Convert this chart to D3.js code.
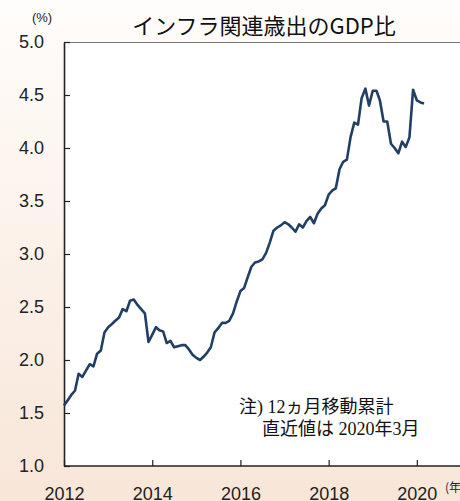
<!DOCTYPE html>
<html>
<head>
<meta charset="utf-8">
<script src="https://cdn.jsdelivr.net/npm/d3@7"></script>
<style>
  body { margin: 0; }
  svg { display: block; }
</style>
</head>
<body>
<div id="chart"></div>
<script>
// monthly series, Jan 2012 - Mar 2020 (%)
var startYear = 2012
var values = [
  1.57, 1.62, 1.67, 1.71, 1.87, 1.84, 1.90, 1.96, 1.94, 2.06, 2.09, 2.26,
  2.31, 2.34, 2.37, 2.40, 2.48, 2.46, 2.56, 2.57, 2.52, 2.48, 2.44, 2.17,
  2.24, 2.31, 2.28, 2.27, 2.16, 2.18, 2.12, 2.13, 2.14, 2.14, 2.10, 2.05,
  2.02, 2.00, 2.03, 2.07, 2.12, 2.26, 2.30, 2.35, 2.35, 2.37, 2.44, 2.55,
  2.65, 2.68, 2.78, 2.88, 2.92, 2.93, 2.95, 3.01, 3.11, 3.22, 3.25, 3.27,
  3.30, 3.28, 3.25, 3.21, 3.28, 3.25, 3.31, 3.35, 3.29, 3.38, 3.43, 3.46,
  3.56, 3.60, 3.62, 3.80, 3.87, 3.89, 4.10, 4.24, 4.22, 4.47, 4.56, 4.40,
  4.54, 4.54, 4.45, 4.25, 4.25, 4.04, 4.00, 3.95, 4.06, 4.01, 4.10, 4.55,
  4.45, 4.43, 4.42
]
var yTicks = [1.0, 1.5, 2.0, 2.5, 3.0, 3.5, 4.0, 4.5, 5.0]
var xYears = [2012, 2014, 2016, 2018, 2020]

var title = "インフラ関連歳出のGDP比"
var noteLines = ["注) 12ヵ月移動累計", "直近値は 2020年3月"]

var width = 460
var height = 501
// plot box (named so it doesn't clash with window.top)
var plotLeft = 64, plotTop = 42, plotRight = 461, plotBottom = 466

var data = values.map(function(v, i) {
  return { date: new Date(startYear, i, 1), value: v }
})

var svg = d3.select("#chart").append("svg")
  .attr("width", width)
  .attr("height", height)

// peach background
var grad = svg.append("defs").append("linearGradient")
  .attr("id", "bg").attr("x1", 0).attr("y1", 0).attr("x2", 0).attr("y2", 1)
grad.append("stop").attr("offset", "0%").attr("stop-color", "#fffdfb")
grad.append("stop").attr("offset", "100%").attr("stop-color", "#f8e6d8")

svg.append("rect")
  .attr("width", width).attr("height", height)
  .attr("fill", "url(#bg)")

var x = d3.scaleTime()
  .domain([new Date(2012, 0, 1), new Date(2021, 0, 1)])
  .range([plotLeft, plotRight])

var y = d3.scaleLinear()
  .domain([1, 5])
  .range([plotBottom, plotTop])

// plot area
svg.append("rect")
  .attr("x", plotLeft).attr("y", plotTop)
  .attr("width", width - plotLeft).attr("height", plotBottom - plotTop)
  .attr("fill", "#fff")

svg.append("line")
  .attr("x1", plotLeft).attr("x2", width)
  .attr("y1", plotTop + 0.5).attr("y2", plotTop + 0.5)
  .attr("stroke", "#777").attr("stroke-width", 1)

var yAxis = svg.append("g")
  .attr("transform", "translate(" + plotLeft + ",0)")
  .call(d3.axisLeft(y).tickValues(yTicks).tickFormat(d3.format(".1f"))
    .tickSizeInner(-6).tickSizeOuter(0).tickPadding(20))
yAxis.select(".domain").attr("stroke", "#222").attr("stroke-width", 1.6)
yAxis.selectAll(".tick line").attr("stroke", "#222").attr("stroke-width", 1.2)
yAxis.selectAll("text")
  .attr("fill", "#222")
  .style("font-family", "'Liberation Sans', Arial, sans-serif")
  .style("font-size", "18px")

var xAxis = svg.append("g")
  .attr("transform", "translate(0," + plotBottom + ")")
  .call(d3.axisBottom(x).tickValues(xYears.map(function(yr) { return new Date(yr, 0, 1) }))
    .tickFormat(d3.timeFormat("%Y"))
    .tickSizeInner(-6).tickSizeOuter(0).tickPadding(21))
xAxis.select(".domain").attr("stroke", "#222").attr("stroke-width", 1.6)
  .attr("d", "M" + plotLeft + ",0H" + width)
xAxis.selectAll(".tick line").attr("stroke", "#222").attr("stroke-width", 1.2)
xAxis.selectAll("text")
  .attr("fill", "#222")
  .style("font-family", "'Liberation Sans', Arial, sans-serif")
  .style("font-size", "18px")

// the series
var line = d3.line()
  .x(function(d) { return x(d.date) })
  .y(function(d) { return y(d.value) })

svg.append("path")
  .datum(data)
  .attr("d", line)
  .attr("fill", "none")
  .attr("stroke", "#213f64")
  .attr("stroke-width", 2.6)
  .attr("stroke-linejoin", "round")

// texts
svg.append("text")
  .attr("x", 264).attr("y", 34)
  .attr("text-anchor", "middle")
  .style("font-family", "'Noto Sans CJK JP', sans-serif")
  .style("font-size", "22px")
  .attr("fill", "#111")
  .text(title)

svg.append("text")
  .attr("x", 42).attr("y", 22)
  .attr("text-anchor", "middle")
  .style("font-family", "'Liberation Sans', Arial, sans-serif")
  .style("font-size", "13px")
  .attr("fill", "#222")
  .text("(%)")

svg.append("text")
  .attr("x", 445).attr("y", 492)
  .style("font-family", "'Noto Sans CJK JP', sans-serif")
  .style("font-size", "12px")
  .attr("fill", "#222")
  .text("(年)")

svg.append("text")
  .attr("x", 239).attr("y", 413)
  .style("font-family", "'Liberation Serif', 'Noto Sans CJK JP', serif")
  .style("font-size", "18px")
  .attr("fill", "#111")
  .text(noteLines[0])

svg.append("text")
  .attr("x", 262).attr("y", 435)
  .style("font-family", "'Liberation Serif', 'Noto Sans CJK JP', serif")
  .style("font-size", "18px")
  .attr("fill", "#111")
  .text(noteLines[1])
</script>
</body>
</html>
